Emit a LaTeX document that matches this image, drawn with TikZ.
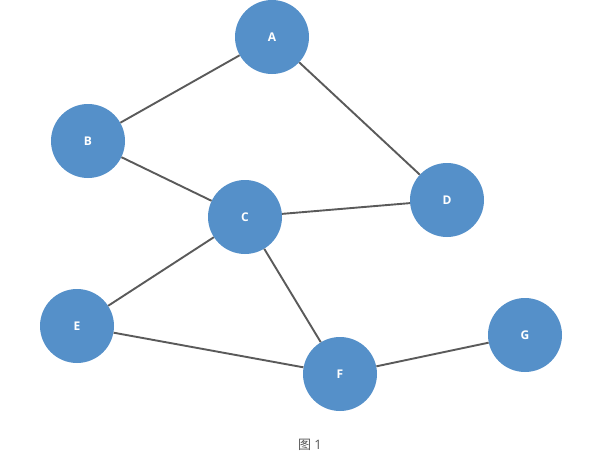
\documentclass[tikz,border=0pt]{standalone}
\usepackage{fontspec}
\setmainfont{Open Sans}
\newfontfamily\cjk{Noto Sans CJK SC}
\definecolor{nodeblue}{HTML}{5590C9}
\definecolor{edgegray}{HTML}{5A5A5A}
\definecolor{capgray}{HTML}{555555}
\begin{document}
\begin{tikzpicture}[x=1pt,y=-1pt,
  vert/.style={circle,fill=nodeblue,minimum size=74pt,inner sep=0pt,text=white,font=\fontsize{12}{14}\selectfont\bfseries},
  edge/.style={draw=edgegray,line width=1.9pt}]
\useasboundingbox (0,0) rectangle (597,461);
\node[vert] (A) at (272,37) {A};
\node[vert] (B) at (88,141) {B};
\node[vert] (C) at (245,217) {C};
\node[vert] (D) at (447,200) {D};
\node[vert] (E) at (77,326) {E};
\node[vert] (F) at (340,374) {F};
\node[vert] (G) at (525,335) {G};
\draw[edge] (A) -- (B);
\draw[edge] (A) -- (D);
\draw[edge] (B) -- (C);
\draw[edge] (C) -- (D);
\draw[edge] (C) -- (E);
\draw[edge] (C) -- (F);
\draw[edge] (E) -- (F);
\draw[edge] (F) -- (G);
\node[text=capgray,font=\fontsize{13}{15}\selectfont] (cap) at (310,445) {{\cjk 图} 1};
\end{tikzpicture}
\end{document}
